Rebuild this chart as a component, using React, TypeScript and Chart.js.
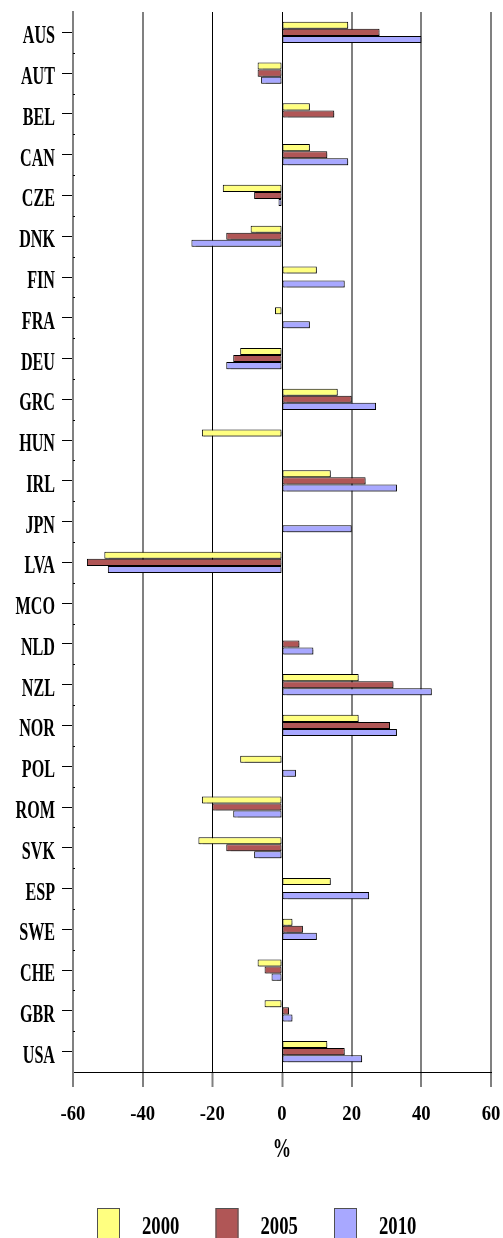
import React, { useEffect, useRef } from "react";
import { Chart, registerables } from "chart.js";

Chart.register(...registerables);

// Country codes, top to bottom
const categories = [
  "AUS", "AUT", "BEL", "CAN", "CZE", "DNK", "FIN", "FRA", "DEU", "GRC", "HUN", "IRL", "JPN",
  "LVA", "MCO", "NLD", "NZL", "NOR", "POL", "ROM", "SVK", "ESP", "SWE", "CHE", "GBR", "USA",
];

// Change in % for each year (null = no value)
const values2000 = [19, -7, 8, 8, -17, -9, 10, -2, -12, 16, -23, 14, null, -51, null, null, 22, 22, -12, -23, -24, 14, 3, -7, -5, 13];
const values2005 = [28, -7, 15, 13, -8, -16, null, null, -14, 20, null, 24, null, -56, null, 5, 32, 31, null, -20, -16, null, 6, -5, 2, 18];
const values2010 = [40, -6, null, 19, -1, -26, 18, 8, -16, 27, null, 33, 20, -50, null, 9, 43, 33, 4, -14, -8, 25, 10, -3, 3, 23];

const seriesLabels = ["2000", "2005", "2010"];
const seriesColors = ["#FFFF80", "#B05656", "#A8A8FF"];

const xTicks = [-60, -40, -20, 0, 20, 40, 60];
const xTitle = "%";

const FAMILY = '"Liberation Serif", "Times New Roman", Tinos, serif';
const W = 503;
const H = 1238;

function drawText(
  ctx: CanvasRenderingContext2D,
  text: string,
  x: number,
  y: number,
  size: number,
  sx: number,
  align: CanvasTextAlign
) {
  ctx.save();
  ctx.font = `bold ${size}px ${FAMILY}`;
  ctx.fillStyle = "#000";
  ctx.textAlign = align;
  ctx.textBaseline = "alphabetic";
  ctx.translate(x, y);
  ctx.scale(sx, 1);
  ctx.fillText(text, 0, 0);
  ctx.restore();
}

// Soft drop shadow under the bars
const barShadowPlugin = {
  id: "barShadow",
  beforeDatasetsDraw(chart: any) {
    const ctx = chart.ctx as CanvasRenderingContext2D;
    ctx.save();
    ctx.shadowColor = "rgba(0,0,0,0.35)";
    ctx.shadowOffsetX = 1.5;
    ctx.shadowOffsetY = 2;
    ctx.shadowBlur = 1;
  },
  afterDatasetsDraw(chart: any) {
    chart.ctx.restore();
  },
};

// Narrow bold labels, axis title and legend drawn after the chart
const labelsPlugin = {
  id: "narrowLabels",
  afterDraw(chart: any) {
    const ctx = chart.ctx as CanvasRenderingContext2D;
    const xs = chart.scales.x;
    const ys = chart.scales.y;
    const area = chart.chartArea;

    // small marks between categories on the axis
    ctx.save();
    ctx.fillStyle = "#000";
    for (let i = 0; i < categories.length - 1; i++) {
      const yb = (ys.getPixelForValue(i) + ys.getPixelForValue(i + 1)) / 2;
      ctx.fillRect(area.left, Math.round(yb), 2, 1);
    }
    ctx.restore();

    categories.forEach((c, i) => {
      const y = ys.getPixelForValue(i);
      drawText(ctx, c, area.left - 18, y + 11, 26, 0.62, "right");
    });

    xTicks.forEach((v) => {
      const x = xs.getPixelForValue(v);
      drawText(ctx, String(v), x, area.bottom + 48, 22, 0.85, "center");
    });

    drawText(ctx, xTitle, xs.getPixelForValue(0), area.bottom + 85, 27, 0.68, "center");

    chart.data.datasets.forEach((ds: any, i: number) => {
      const bx = 97 + i * 118.5;
      const by = area.bottom + 136;
      ctx.save();
      ctx.fillStyle = ds.backgroundColor;
      ctx.strokeStyle = "#505050";
      ctx.lineWidth = 1;
      ctx.fillRect(bx, by, 23, 40);
      ctx.strokeRect(bx + 0.5, by + 0.5, 22, 40);
      ctx.restore();
      drawText(ctx, ds.label, bx + 45, by + 26, 26, 0.72, "left");
    });
  },
};

export default function App() {
  const ref = useRef<HTMLCanvasElement | null>(null);

  useEffect(() => {
    if (!ref.current) return;
    const data = [values2000, values2005, values2010];
    const chart = new Chart(ref.current, {
      type: "bar",
      data: {
        labels: categories,
        datasets: seriesLabels.map((label, i) => ({
          label,
          data: data[i],
          backgroundColor: seriesColors[i],
          borderColor: "#000",
          borderWidth: 1,
          borderSkipped: false,
          barPercentage: 1,
          categoryPercentage: 0.52,
        })),
      },
      options: {
        indexAxis: "y",
        responsive: false,
        animation: false,
        devicePixelRatio: 1,
        layout: { padding: { top: 12, right: 12, left: 0, bottom: 0 } },
        plugins: {
          legend: { display: false },
          tooltip: { enabled: false },
        },
        scales: {
          x: {
            type: "linear",
            min: -60,
            max: 60,
            ticks: { stepSize: 20, display: false },
            grid: {
              color: (ctx: any) =>
                ctx.tick && (ctx.tick.value === 0 || ctx.tick.value === -20) ? "#000" : "#808080",
              lineWidth: (ctx: any) =>
                ctx.tick && (ctx.tick.value === 0 || ctx.tick.value === -20) ? 1 : 2,
              tickColor: "#808080",
              tickLength: 15,
              tickWidth: 2,
            },
            border: { display: true, color: "#000", width: 1 },
            afterFit: (scale: any) => {
              scale.height = 166;
            },
          },
          y: {
            type: "category",
            ticks: { display: false },
            grid: {
              display: true,
              offset: false,
              drawOnChartArea: false,
              color: "#000",
              tickLength: 11,
              lineWidth: 1,
            },
            border: { display: true, color: "#808080", width: 2 },
            afterFit: (scale: any) => {
              scale.width = 73;
            },
          },
        },
      },
      plugins: [barShadowPlugin, labelsPlugin],
    } as any);

    // Redraw once the serif face is ready for canvas text
    let alive = true;
    const fonts = (document as any).fonts;
    if (fonts && fonts.load) {
      fonts
        .load(`bold 26px ${FAMILY}`)
        .then(() => {
          if (alive) chart.draw();
        })
        .catch(() => {});
    }
    return () => {
      alive = false;
      chart.destroy();
    };
  }, []);

  return (
    <div style={{ position: "absolute", left: 0, top: 0, width: W, height: H, background: "#fff" }}>
      <span style={{ position: "absolute", visibility: "hidden", fontFamily: FAMILY, fontWeight: "bold" }}>AUS 2000</span>
      <canvas ref={ref} width={W} height={H} style={{ width: W, height: H, display: "block" }} />
    </div>
  );
}
